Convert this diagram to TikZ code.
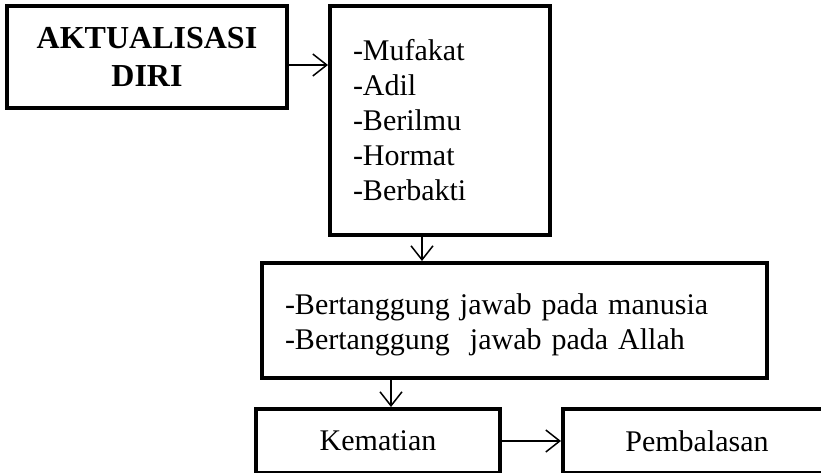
\documentclass[tikz,border=0pt]{standalone}
\usepackage{fontspec}
\setmainfont{Liberation Serif}
\usepackage{tikz}
\usetikzlibrary{
  arrows.meta,
  positioning,
  calc
}
\tikzset{
  kotak/.style={draw, line width=4pt, rectangle, inner sep=0pt,
    font=\fontsize{30}{35}\selectfont},
  daftar/.style={kotak, align=left, inner xsep=23pt},
  arr/.style={-{Straight Barb[length=14pt, width=22pt, line width=1.5pt]},
    line width=1.5pt},
}

\begin{document}
\begin{tikzpicture}[x=1pt, y=-1pt]
  % frame of the page
  \clip (0,0) rectangle (821,472);
  \useasboundingbox (0,0) rectangle (821,472);

  % Top row
  \node[kotak, minimum width=280pt, minimum height=102pt,
        font=\fontsize{32}{38}\selectfont\bfseries, align=center]
    (aktual) at (147,57) {AKTUALISASI\\DIRI};
  \node[daftar, minimum width=220pt, minimum height=229pt,
        text width=174pt] (nilai) at (440,120.5)
    {-Mufakat\\-Adil\\-Berilmu\\-Hormat\\-Berbakti};

  % Middle box
  \node[daftar, minimum width=505pt, minimum height=115pt,
        text width=459pt] (tanggung) at (514.5,320.5)
    {\rule{0pt}{30pt}-Bertanggung jawab pada manusia\\-Bertanggung\ \ jawab pada Allah};

  % Bottom row
  \node[kotak, minimum width=244pt, minimum height=64pt]
    (mati) at (378,441) {Kematian};
  \node[kotak, minimum width=268pt, minimum height=64pt]
    (balas) at (697,441) {Pembalasan};

  % Connectors
  \draw[arr] ([yshift=-8pt]aktual.east)
    -- ([yshift=-8pt]aktual.east -| nilai.west);
  \draw[arr] ([xshift=-18pt]nilai.south)
    -- ([xshift=-18pt]nilai.south |- tanggung.north);
  \draw[arr] ([xshift=13pt]mati.north |- tanggung.south)
    -- ([xshift=13pt]mati.north);
  \draw[arr] (mati.east) -- (balas.west);
\end{tikzpicture}
\end{document}
